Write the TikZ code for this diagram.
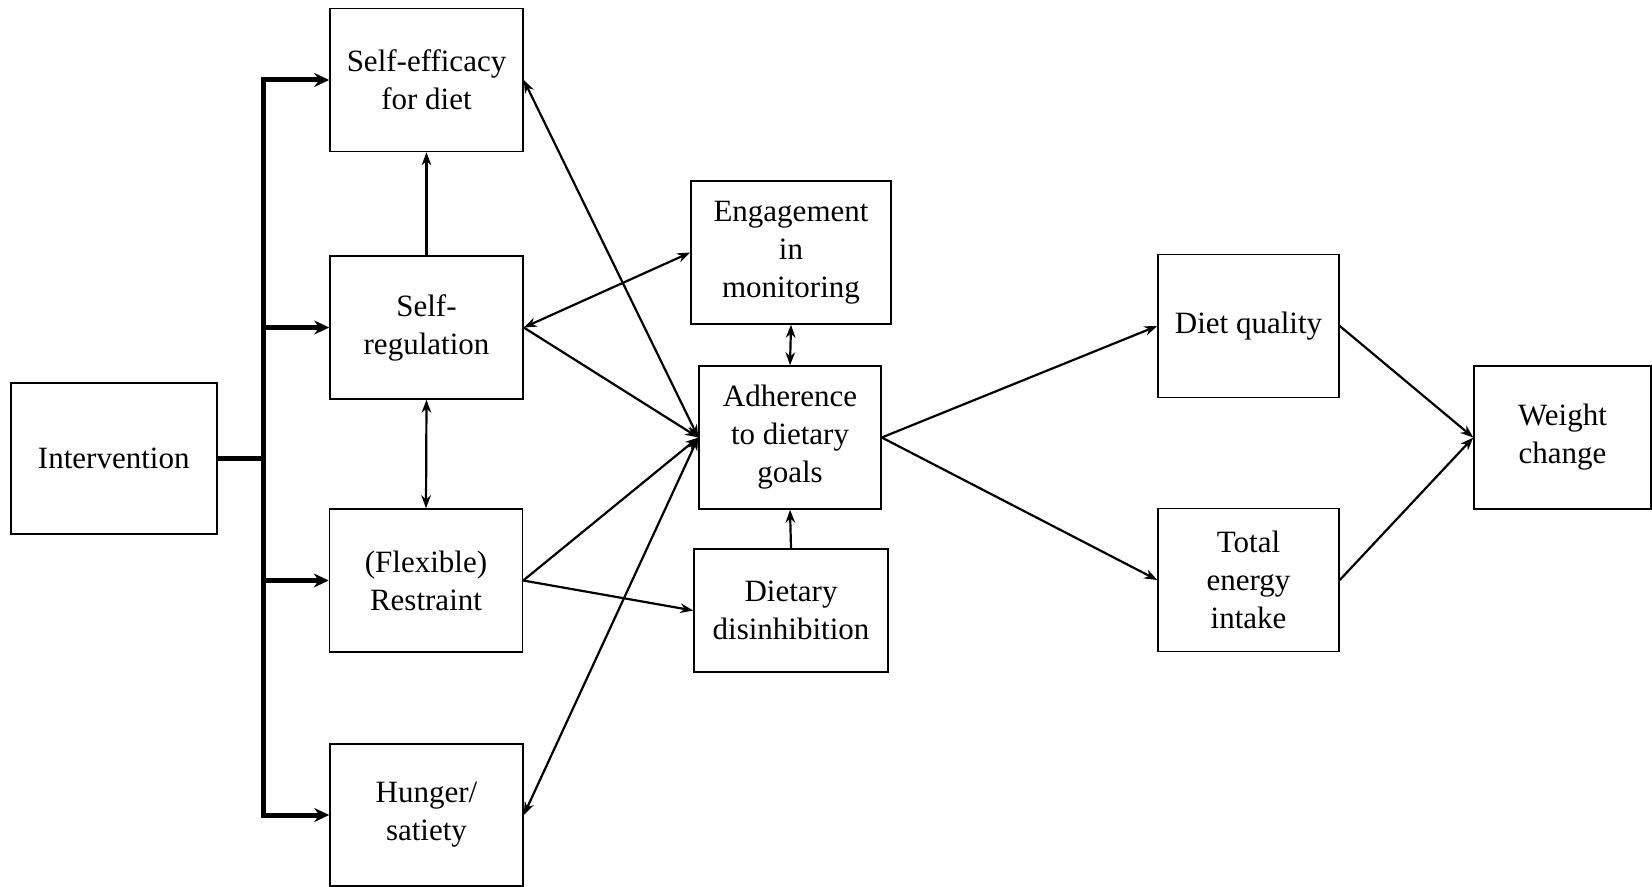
\documentclass[tikz,border=0pt]{standalone}
\usepackage{fontspec}
\setmainfont{Liberation Serif}
\usepackage{tikz}
\usetikzlibrary{arrows.meta, positioning}

\begin{document}
\begin{tikzpicture}[x=0.5pt, y=-0.5pt, align=center,
	box/.style = {draw, line width=0.75pt, inner sep=0pt, minimum width=96.5pt, minimum height=71.5pt,
		font=\fontsize{15.5}{19}\selectfont},
	link/.style = {line width=1.1pt, -{Stealth[length=6.5pt, width=4.8pt]}},
	both/.style = {line width=1.1pt, {Stealth[length=6.5pt, width=4.8pt]}-{Stealth[length=6.5pt, width=4.8pt]}},
	bus/.style = {line width=2.5pt, -{Stealth[length=7.5pt, width=7pt]}}
]
			\useasboundingbox (0,0) rectangle (1652,887);

			\node[box, minimum width=103pt, minimum height=75.5pt] (int-box) at (113.75,458.5) {Intervention};
			\node[box] (eff-box) at (426.5,80) {Self-efficacy\\for diet};
			\node[box] (reg-box) at (426.5,327.5) {Self-\\regulation};
			\node[box] (res-box) at (426,580.5) {(Flexible)\\Restraint};
			\node[box, minimum height=71pt] (hun-box) at (426.5,815) {Hunger/\\satiety};

			\node[box, minimum width=100pt] (mon-box) at (791,252.5) {Engagement\\in\\monitoring};
			\node[box, minimum width=91pt] (adh-box) at (790,437.5) {Adherence\\to dietary\\goals};
			\node[box, minimum width=97pt, minimum height=61.5pt] (dis-box) at (791,610.5) {Dietary\\disinhibition};

			\node[box, minimum width=90.5pt] (qual-box) at (1248.5,326) {Diet quality};
			\node[box, minimum width=90.5pt] (ener-box) at (1248.5,580) {Total\\energy\\intake};
			\node[box, minimum width=88.5pt] (wt-box) at (1562.5,437.5) {Weight\\change};

			\coordinate (bus) at (263,458.5);
			\draw[line width=2.5pt] (int-box.east) -- (bus);
			\draw[bus, {Stealth[length=7.5pt, width=7pt]}-{Stealth[length=7.5pt, width=7pt]}]
				(eff-box.west) -- (eff-box.west -| bus) -- (hun-box.west -| bus) -- (hun-box.west);
			\draw[bus] (reg-box.west -| bus) -- (reg-box.west);
			\draw[bus] (res-box.west -| bus) -- (res-box.west);

			\draw[link] (reg-box.north) -- (eff-box.south);
			\draw[both] (reg-box.south) -- (res-box.north);
			\draw[both] (eff-box.east) -- (adh-box.west);
			\draw[both] (reg-box.east) -- (mon-box.west);
			\draw[link] (reg-box.east) -- (adh-box.west);
			\draw[link] (res-box.east) -- (adh-box.west);
			\draw[link] (res-box.east) -- (dis-box.west);
			\draw[both] (hun-box.east) -- (adh-box.west);
			\draw[both] (mon-box.south) -- (adh-box.north);
			\draw[link] (dis-box.north) -- (adh-box.south);

			\draw[link] (adh-box.east) -- (qual-box.west);
			\draw[link] (adh-box.east) -- (ener-box.west);
			\draw[link] (qual-box.east) -- (wt-box.west);
			\draw[link] (ener-box.east) -- (wt-box.west);
		\end{tikzpicture}
\end{document}
